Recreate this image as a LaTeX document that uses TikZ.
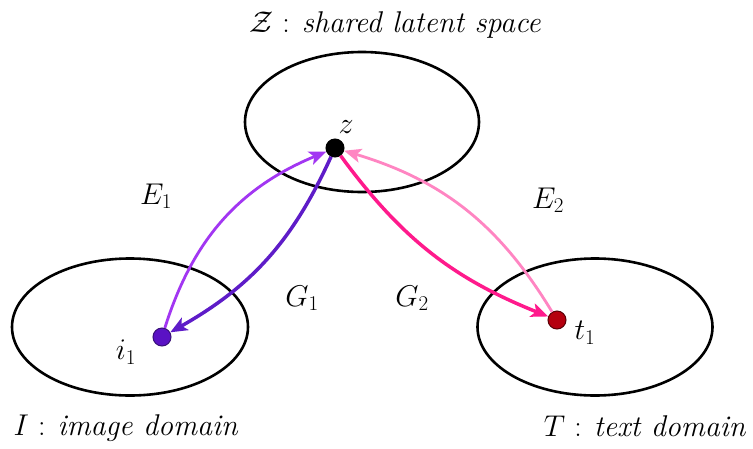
\RequirePackage{fix-cm}
\documentclass[tikz,border=0pt]{standalone}
\usetikzlibrary{arrows.meta,shapes.geometric}
\definecolor{eone}{HTML}{A236F2}
\definecolor{gone}{HTML}{5E1CC8}
\definecolor{etwo}{HTML}{FF85C2}
\definecolor{gtwo}{HTML}{FF1A8C}
\definecolor{ifill}{HTML}{5A12C4}
\definecolor{tfill}{HTML}{B5000F}
\begin{document}
\begin{tikzpicture}[x=1pt,y=-1pt,
  domainell/.style={draw=black, line width=2.6pt, ellipse, inner sep=0pt},
  dotnode/.style={circle, draw, line width=1pt, inner sep=0pt, minimum size=18pt},
  lbl/.style={font=\fontsize{30}{36}\selectfont, inner sep=0pt},
  maparrow/.style={line width=#1, -{Stealth[length=17pt,width=14pt,inset=4pt]}},
]
\useasboundingbox (0,0) rectangle (753,448);
\fill[white] (0,0) rectangle (753,448);
% domains
\node[domainell, minimum width=234pt, minimum height=140pt] (Zsp) at (362,122) {};
\node[domainell, minimum width=236pt, minimum height=137pt] (Isp) at (130,327) {};
\node[domainell, minimum width=235pt, minimum height=137pt] (Tsp) at (595,327) {};
% titles
\node[lbl] (Zt) at (395,25) {$\mathcal{Z}$ : \textit{shared latent space}};
\node[lbl] (It) at (126,428) {$I$ : \textit{image domain}};
\node[lbl] (Tt) at (645,426) {$T$ : \textit{text domain}};
% points
\node[dotnode, fill=black, draw=black] (z) at (335,148) {};
\node[dotnode, fill=ifill, draw=gone!60!black] (i1) at (162,337) {};
\node[dotnode, fill=tfill, draw=tfill!50!black] (t1) at (557,320) {};
\node[lbl] (zl) at (346,127) {$z$};
\node[lbl] (il) at (126,352) {$i_1$};
\node[lbl] (tl) at (585,333) {$t_1$};
% map labels
\node[lbl] (E1) at (156,196) {$E_1$};
\node[lbl] (G1) at (302,298) {$G_1$};
\node[lbl] (G2) at (412,298) {$G_2$};
\node[lbl] (E2) at (548,200) {$E_2$};
% arrows
\draw[maparrow=2.8pt, eone] (i1) to[bend left=25] (z);
\draw[maparrow=3.5pt, gone] (z) to[bend left=18] (i1);
\draw[maparrow=2.8pt, etwo] (t1) to[bend right=21] (z);
\draw[maparrow=3.5pt, gtwo] (z) to[bend right=16] (t1);
\end{tikzpicture}
\end{document}
